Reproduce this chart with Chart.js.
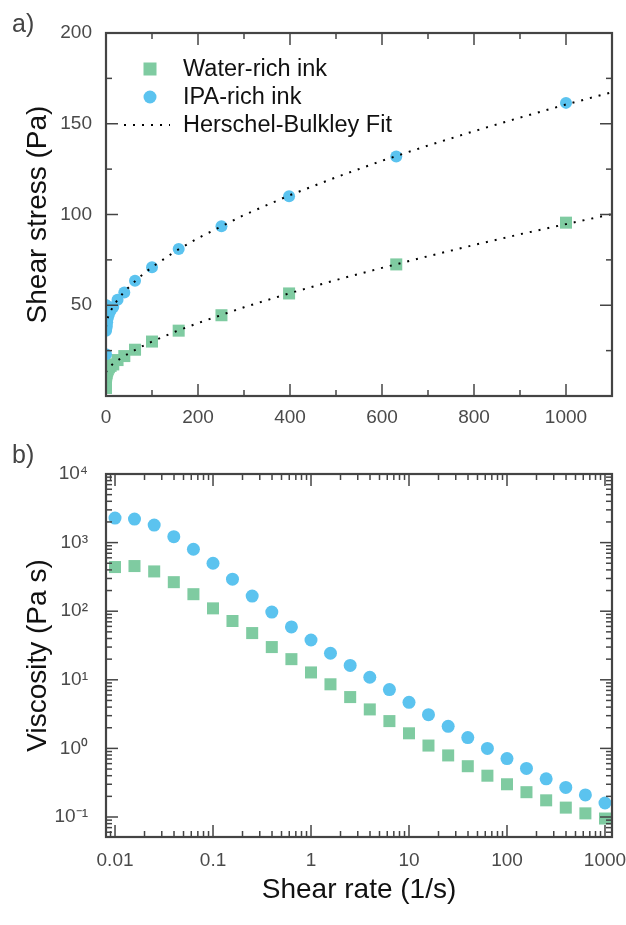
<!DOCTYPE html>
<html>
<head>
<meta charset="utf-8">
<script src="https://cdn.jsdelivr.net/npm/chart.js@4.4.1/dist/chart.umd.min.js"></script>
<style>
  html, body { margin: 0; padding: 0; background: #fff; }
  body { width: 626px; height: 925px; position: relative; overflow: hidden; font-family: "Liberation Sans", Arial, sans-serif; }
  .wrap { position: absolute; left: 0; width: 626px; }
  #w1 { top: 0; height: 440px; }
  #w2 { top: 440px; height: 485px; }
  .panel { position: absolute; left: 12px; font-size: 25px; color: #444; line-height: 1; }
</style>
</head>
<body>
<div class="wrap" id="w1"><canvas id="c1" width="626" height="440"></canvas></div>
<div class="wrap" id="w2"><canvas id="c2" width="626" height="485"></canvas></div>
<div class="panel" style="top:11px;">a)</div>
<div class="panel" style="top:442px;">b)</div>
<script>
// ---------------- data ----------------
const seriesNames = ['Water-rich ink', 'IPA-rich ink', 'Herschel-Bulkley Fit'];
const shearRate = [0.01, 0.0158, 0.0251, 0.0398, 0.0631, 0.1, 0.158, 0.251, 0.398, 0.631,
                   1, 1.58, 2.51, 3.98, 6.31, 10, 15.8, 25.1, 39.8, 63.1,
                   100, 158, 251, 398, 631, 1000];
// panel a) shear stress (Pa)
const waterStress = [4.4, 7.2, 9.5, 10.5, 11, 11, 11.4, 12, 12, 12.6,
                     12.8, 13.6, 14, 14.7, 15.8, 16.6, 17.4, 19.8, 22, 25.5,
                     30, 36, 44.5, 56.5, 72.5, 95.5];
const ipaStress = [23, 36, 45, 48, 50, 50, 46, 42, 38.6, 37,
                   38, 38.6, 40.7, 43, 45, 47, 49, 53, 57, 63.5,
                   71, 81, 93.5, 110, 132, 161.5];
// Herschel-Bulkley fit curves
const fitRate = [0, 1, 3, 6, 10, 20, 40, 70, 100, 150, 200, 300, 400, 500, 600, 700, 800, 900, 1000, 1100];
const waterFit = [13, 13.7, 14.6, 15.5, 16.5, 18.7, 22.1, 26.3, 30.0, 35.4, 40.2, 48.9, 56.7, 63.9, 70.6, 77.0, 83.2, 89.1, 94.7, 100.2];
const ipaFit = [38, 40.4, 42.5, 44.6, 46.9, 51.2, 57.6, 64.9, 71.0, 79.6, 87.0, 99.7, 110.7, 120.5, 129.6, 138.0, 145.9, 153.4, 160.6, 167.4];
// panel b) viscosity (Pa s)
const waterVisc = [440, 455, 380, 265, 177, 110, 72, 48, 30, 20,
                   12.8, 8.6, 5.6, 3.7, 2.5, 1.66, 1.1, 0.79, 0.55, 0.40,
                   0.30, 0.23, 0.175, 0.137, 0.113, 0.095];
const ipaVisc = [2280, 2200, 1800, 1220, 800, 500, 293, 166, 97, 59,
                 38, 24.4, 16.2, 10.9, 7.2, 4.7, 3.1, 2.1, 1.44, 1.0,
                 0.71, 0.51, 0.36, 0.27, 0.21, 0.16];
// ticks
const stressXTicks = [0, 200, 400, 600, 800, 1000];
const stressXMinor = [100, 300, 500, 700, 900];
const stressYTicks = [50, 100, 150, 200];
const stressYMinor = [25, 75, 125, 175];
const rateTicks = [0.01, 0.1, 1, 10, 100, 1000];
const rateTickLabels = ['0.01', '0.1', '1', '10', '100', '1000'];
const viscTicks = [0.1, 1, 10, 100, 1000, 10000];
const viscTickLabels = ['10\u207B\u00B9', '10\u2070', '10\u00B9', '10\u00B2', '10\u00B3', '10\u2074'];

// ---------------- style ----------------
const FONT = '"Liberation Sans", Arial, sans-serif';
const GREEN = '#7fcba1';
const BLUE = '#5bc3ef';
const AXIS = '#444444';
const TICKTXT = '#4a4a4a';

function logMinor(lo, hi) {
  const out = [];
  for (let d = Math.floor(Math.log10(lo)); d <= Math.ceil(Math.log10(hi)); d++) {
    for (let k = 2; k <= 9; k++) {
      const v = k * Math.pow(10, d);
      if (v > lo && v < hi) out.push(v);
    }
  }
  return out;
}

const frameTicks = {
  id: 'frameTicks',
  afterDraw(chart, args, o) {
    const ctx = chart.ctx, a = chart.chartArea;
    const xs = chart.scales.x, ys = chart.scales.y;
    ctx.save();
    ctx.strokeStyle = AXIS;
    ctx.lineWidth = 1.5;
    const seg = (x1, y1, x2, y2) => { ctx.beginPath(); ctx.moveTo(x1, y1); ctx.lineTo(x2, y2); ctx.stroke(); };
    const xt = (vals, len) => vals.forEach(v => {
      const p = xs.getPixelForValue(v);
      if (p < a.left - 0.5 || p > a.right + 0.5) return;
      seg(p, a.bottom, p, a.bottom - len);
      seg(p, a.top, p, a.top + len);
    });
    const yt = (vals, len) => vals.forEach(v => {
      const p = ys.getPixelForValue(v);
      if (p < a.top - 0.5 || p > a.bottom + 0.5) return;
      seg(a.left, p, a.left + len, p);
      seg(a.right, p, a.right - len, p);
    });
    xt(o.xMajor, 12); xt(o.xMinor, 6);
    yt(o.yMajor, 12); yt(o.yMinor, 6);
    ctx.lineWidth = 2.2;
    ctx.strokeRect(a.left, a.top, a.right - a.left, a.bottom - a.top);
    ctx.restore();
  }
};

const inkLegend = {
  id: 'inkLegend',
  afterDraw(chart, args, o) {
    const ctx = chart.ctx;
    ctx.save();
    ctx.font = o.size + 'px ' + FONT;
    ctx.textBaseline = 'middle';
    o.items.forEach((it, i) => {
      const ds = chart.data.datasets[it.ds];
      const y = o.y0 + i * o.dy;
      if (it.kind === 'line') {
        ctx.save();
        ctx.strokeStyle = ds.borderColor;
        ctx.lineWidth = ds.borderWidth;
        ctx.setLineDash(ds.borderDash);
        ctx.beginPath(); ctx.moveTo(o.mx - 26, y); ctx.lineTo(o.mx + 20, y); ctx.stroke();
        ctx.restore();
      } else if (it.kind === 'rect') {
        ctx.fillStyle = ds.pointBackgroundColor;
        ctx.fillRect(o.mx - 6.5, y - 6.5, 13, 13);
      } else {
        ctx.fillStyle = ds.pointBackgroundColor;
        ctx.beginPath(); ctx.arc(o.mx, y, 6.5, 0, Math.PI * 2); ctx.fill();
      }
      ctx.fillStyle = '#111';
      ctx.fillText(ds.label, o.tx, y + 1);
    });
    ctx.restore();
  }
};

const tickFont = { family: FONT, size: 19 };
const titleFont = { family: FONT, size: 28 };

// ---------------- panel a ----------------
new Chart(document.getElementById('c1'), {
  type: 'scatter',
  data: {
    datasets: [
      { label: seriesNames[2], data: fitRate.map((x, i) => ({ x, y: ipaFit[i] })), showLine: true,
        borderColor: '#000', borderWidth: 2, borderDash: [2, 7], pointRadius: 0, fill: false, order: 0 },
      { label: seriesNames[2], data: fitRate.map((x, i) => ({ x, y: waterFit[i] })), showLine: true,
        borderColor: '#000', borderWidth: 2, borderDash: [2, 7], pointRadius: 0, fill: false, order: 0 },
      { label: seriesNames[1], data: shearRate.map((x, i) => ({ x, y: ipaStress[i] })),
        pointStyle: 'circle', pointRadius: 6, pointBackgroundColor: BLUE, pointBorderWidth: 0, order: 1 },
      { label: seriesNames[0], data: shearRate.map((x, i) => ({ x, y: waterStress[i] })),
        pointStyle: 'rect', pointRadius: 8.5, pointBackgroundColor: GREEN, pointBorderWidth: 0, order: 2 }
    ]
  },
  options: {
    responsive: false, animation: false, events: [],
    layout: { padding: { top: 33, right: 14, left: 0, bottom: 0 } },
    plugins: {
      legend: { display: false }, tooltip: { enabled: false },
      frameTicks: { xMajor: stressXTicks, xMinor: stressXMinor, yMajor: stressYTicks, yMinor: stressYMinor },
      inkLegend: { mx: 150, tx: 183, y0: 69, dy: 28, size: 23.5,
                   items: [{ ds: 3, kind: 'rect' }, { ds: 2, kind: 'circle' }, { ds: 0, kind: 'line' }] }
    },
    scales: {
      x: {
        type: 'linear', min: 0, max: 1100,
        afterBuildTicks: ax => { ax.ticks = stressXTicks.map(v => ({ value: v })); },
        afterFit: ax => { ax.height = 44; ax.paddingLeft = 0; ax.paddingRight = 0; },
        grid: { display: false, drawTicks: false }, border: { display: false },
        ticks: { padding: 10, font: tickFont, color: TICKTXT, maxRotation: 0, autoSkip: false, callback: v => String(v) }
      },
      y: {
        type: 'linear', min: 0, max: 200,
        afterBuildTicks: ax => { ax.ticks = stressYTicks.map(v => ({ value: v })); },
        afterFit: ax => { ax.width = 106; ax.paddingTop = 0; ax.paddingBottom = 0; },
        grid: { display: false, drawTicks: false }, border: { display: false },
        ticks: { padding: 14, font: tickFont, color: TICKTXT, autoSkip: false, callback: v => String(v) },
        title: { display: true, text: 'Shear stress (Pa)', font: titleFont, color: '#111', padding: { top: 21, bottom: 0 } }
      }
    }
  },
  plugins: [frameTicks, inkLegend]
});

// ---------------- panel b ----------------
const rateMin = 0.00809, rateMax = 1179, viscMin = 0.0511, viscMax = 10000;
new Chart(document.getElementById('c2'), {
  type: 'scatter',
  data: {
    datasets: [
      { label: seriesNames[1], data: shearRate.map((x, i) => ({ x, y: ipaVisc[i] })),
        pointStyle: 'circle', pointRadius: 6.5, pointBackgroundColor: BLUE, pointBorderWidth: 0, order: 1 },
      { label: seriesNames[0], data: shearRate.map((x, i) => ({ x, y: waterVisc[i] })),
        pointStyle: 'rect', pointRadius: 8.5, pointBackgroundColor: GREEN, pointBorderWidth: 0, order: 2 }
    ]
  },
  options: {
    responsive: false, animation: false, events: [],
    layout: { padding: { top: 34, right: 14, left: 0, bottom: 0 } },
    plugins: {
      legend: { display: false }, tooltip: { enabled: false },
      frameTicks: { xMajor: rateTicks, xMinor: logMinor(rateMin, rateMax), yMajor: viscTicks, yMinor: logMinor(viscMin, viscMax) },
      inkLegend: { mx: 352, tx: 385, y0: 541, dy: 28, size: 23,
                   items: [{ ds: 1, kind: 'rect' }, { ds: 0, kind: 'circle' }] }
    },
    scales: {
      x: {
        type: 'logarithmic', min: rateMin, max: rateMax,
        afterBuildTicks: ax => { ax.ticks = rateTicks.map(v => ({ value: v })); },
        afterFit: ax => { ax.height = 88; ax.paddingLeft = 0; ax.paddingRight = 0; },
        grid: { display: false, drawTicks: false }, border: { display: false },
        ticks: { padding: 12, font: tickFont, color: TICKTXT, maxRotation: 0, autoSkip: false, callback: (v, i) => rateTickLabels[i] },
        title: { display: true, text: 'Shear rate (1/s)', font: titleFont, color: '#111', padding: { top: 0, bottom: 18 } }
      },
      y: {
        type: 'logarithmic', min: viscMin, max: viscMax,
        afterBuildTicks: ax => { ax.ticks = viscTicks.map(v => ({ value: v })); },
        afterFit: ax => { ax.width = 106; ax.paddingTop = 0; ax.paddingBottom = 0; },
        grid: { display: false, drawTicks: false }, border: { display: false },
        ticks: { padding: 18, font: tickFont, color: TICKTXT, autoSkip: false, callback: (v, i) => viscTickLabels[i] },
        title: { display: true, text: 'Viscosity (Pa s)', font: titleFont, color: '#111', padding: { top: 21, bottom: 0 } }
      }
    }
  },
  plugins: [frameTicks, inkLegend]
});
</script>
</body>
</html>
